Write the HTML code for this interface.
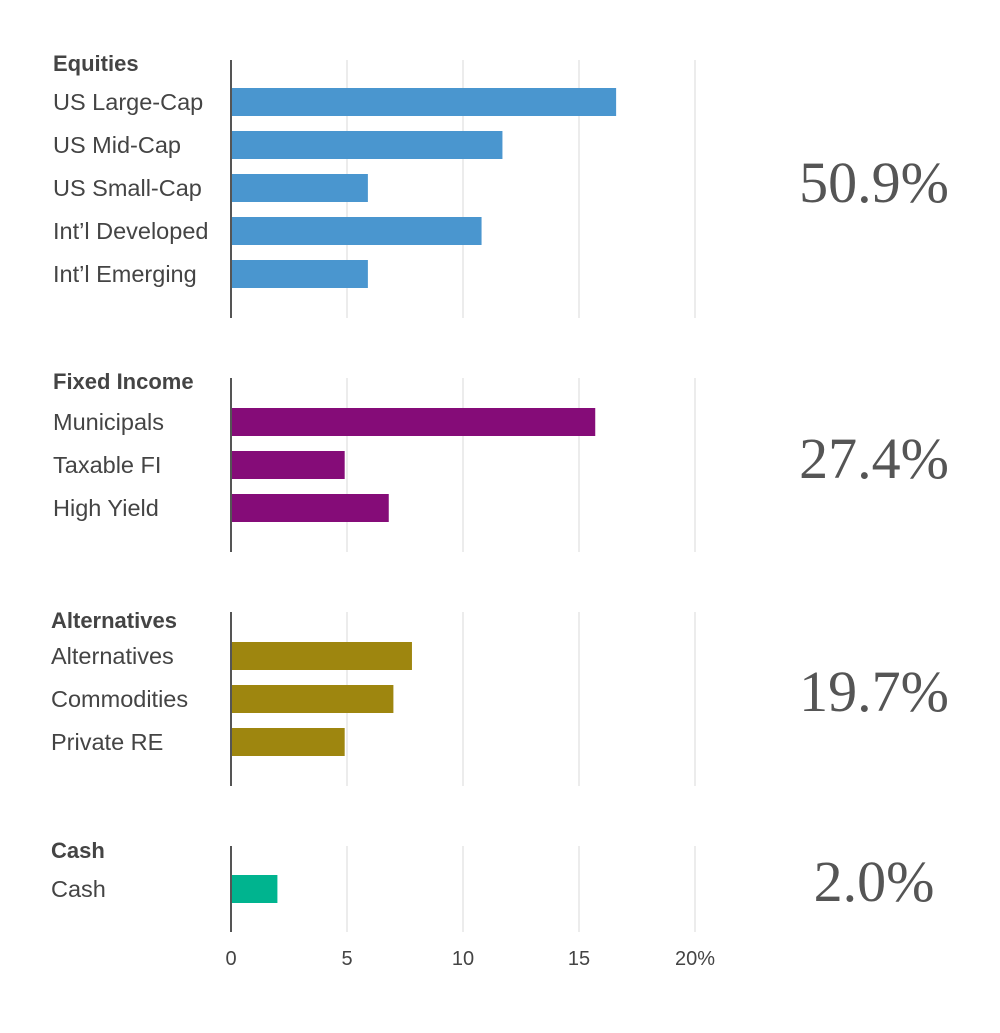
<!DOCTYPE html>
<html><head><meta charset="utf-8"><style>
body{margin:0;background:#fff;}
svg text{font-family:"Liberation Sans",sans-serif;}
</style></head><body>
<svg id="chart" width="1000" height="1028" xmlns="http://www.w3.org/2000/svg"></svg>
<script>
const groupNames = ["Equities","Fixed Income","Alternatives","Cash"];
const groupTotals = ["50.9%","27.4%","19.7%","2.0%"];
const groupColors = ["#4a96cf","#850c78","#9e860f","#00b48f"];
const equityCats = ["US Large-Cap","US Mid-Cap","US Small-Cap","Int\u2019l Developed","Int\u2019l Emerging"];
const equityVals = [16.6,11.7,5.9,10.8,5.9];
const fixedCats = ["Municipals","Taxable FI","High Yield"];
const fixedVals = [15.7,4.9,6.8];
const altCats = ["Alternatives","Commodities","Private RE"];
const altVals = [7.8,7.0,4.9];
const cashCats = ["Cash"];
const cashVals = [2.0];
const tickVals = [0,5,10,15,20];
const tickLabels = ["0","5","10","15","20%"];

const svg = document.getElementById('chart');
const NS = "http://www.w3.org/2000/svg";
const x = v => 231 + v * 23.2;
function mk(tag, attrs, text){
  const e = document.createElementNS(NS, tag);
  for (const k in attrs) e.setAttribute(k, attrs[k]);
  if (text !== undefined) e.textContent = text;
  svg.appendChild(e);
  return e;
}
const layout = [
  {hy:63, top:60, bot:318, first:102, lx:53, ty:183},
  {hy:381, top:378, bot:552, first:422, lx:53, ty:459},
  {hy:620, top:612, bot:786, first:656, lx:51, ty:692},
  {hy:850, top:846, bot:932, first:889, lx:51, ty:882}
];
const cats = [equityCats, fixedCats, altCats, cashCats];
const vals = [equityVals, fixedVals, altVals, cashVals];
layout.forEach((L, g) => {
  tickVals.forEach(t => {
    if (t === 0) return;
    const gl = mk('line', {x1:x(t), x2:x(t), y1:L.top, y2:L.bot, stroke:'#d9d9d9', 'stroke-width':1});
    
    
  });
  const h = mk('text', {x:L.lx, y:L.hy+8, 'font-size':22, 'font-weight':'bold', fill:'#444'}, groupNames[g]);
  
  
  cats[g].forEach((c, i) => {
    const cy = L.first + i * 43;
    const lb = mk('text', {x:L.lx, y:cy+8, 'font-size':23.5, fill:'#444'}, c);
    
    
    const b = mk('rect', {x:x(0), y:cy-14, width:x(vals[g][i])-x(0), height:28, fill:groupColors[g]});
    
    
  });
  const ax = mk('line', {x1:231, x2:231, y1:L.top, y2:L.bot, stroke:'#555', 'stroke-width':2});
  
  
  const tt = mk('text', {x:874, y:L.ty+19, 'font-size':58, fill:'#555', 'text-anchor':'middle'}, groupTotals[g]);
  tt.style.fontFamily = '"Liberation Serif", serif';
  
  
});
tickVals.forEach((t, i) => {
  const tl = mk('text', {x:x(t), y:965, 'font-size':20, fill:'#444', 'text-anchor':'middle'}, tickLabels[i]);
  
  
});
</script>
</body></html>
